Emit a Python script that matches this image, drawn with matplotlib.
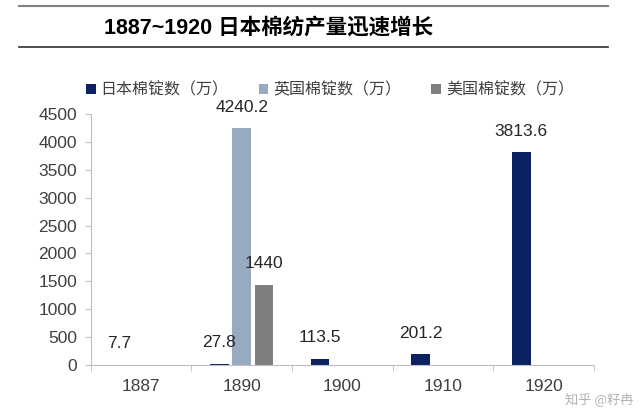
import numpy as np
import matplotlib
matplotlib.use("Agg")
import matplotlib.pyplot as plt

plt.rcParams['font.family'] = ['Liberation Sans', 'Noto Sans CJK SC', 'DejaVu Sans']

years = ["1887", "1890", "1900", "1910", "1920"]
japan = [7.7, 27.8, 113.5, 201.2, 3813.6]
britain = [None, 4240.2, None, None, None]
usa = [None, 1440, None, None, None]
series_names = ["日本棉锭数（万）", "英国棉锭数（万）", "美国棉锭数（万）"]
colors = ["#0B2161", "#98AABF", "#7F7F7F"]

fig = plt.figure(figsize=(6.4, 4.08), dpi=100)
ax = fig.add_axes([0.142, 0.105, 0.786, 0.616])

x = np.arange(len(years))
w = 0.185
step = 0.222
for i, (vals, name, c) in enumerate(zip([japan, britain, usa], series_names, colors)):
    xs = [x[j] + (i - 1) * step for j in range(len(vals)) if vals[j] is not None]
    vs = [v for v in vals if v is not None]
    ax.bar(xs, vs, width=w, color=c, label=name)
    for xv, v in zip(xs, vs):
        ax.annotate(f"{v:g}", (xv, v), xytext=(0, 15), textcoords="offset points",
                    ha="center", va="center", fontsize=12.5, color="#262626")

ax.set_xlim(-0.5, len(years) - 0.5)
ax.set_ylim(0, 4500)
ax.set_yticks(np.arange(0, 4501, 500))
ax.set_xticks(x)
ax.set_xticklabels(years)
ax.set_xticks(np.arange(-0.5, len(years)), minor=True)
ax.tick_params(axis="x", which="major", length=0, pad=10, labelsize=12.5, colors="#404040")
ax.tick_params(axis="x", which="minor", length=4, color="#BFBFBF")
ax.tick_params(axis="y", length=4, color="#BFBFBF", labelsize=12.5, labelcolor="#404040", pad=6)
for s in ["top", "right"]:
    ax.spines[s].set_visible(False)
for s in ["left", "bottom"]:
    ax.spines[s].set_color("#BFBFBF")

leg = fig.legend(loc="center left", bbox_to_anchor=(0.112, 1 - 90 / 408), ncol=3, frameon=False,
                 handlelength=0.6, handleheight=0.6, handletextpad=0.3, columnspacing=1.9,
                 prop={"family": ["Noto Sans CJK SC"], "size": 11.5})
for t in leg.get_texts():
    t.set_color("#404040")

# header with rules
fig.add_artist(plt.Line2D([0.03, 0.95], [1 - 6 / 408] * 2, color="#808080", lw=1.5))
fig.add_artist(plt.Line2D([0.03, 0.95], [1 - 47 / 408] * 2, color="#303030", lw=1.2))
fig.text(0.163, 1 - 28 / 408, "1887~1920 日本棉纺产量迅速增长", fontsize=15.5, fontweight="bold",
         va="center", ha="left", family=["Liberation Sans", "Noto Sans CJK SC"])

# watermark
fig.text(0.99, 1 - 399 / 408, "知乎 @籽冉", fontsize=9.5, color="#A0A0A0", alpha=0.8,
         va="center", ha="right", family=["Noto Sans CJK SC", "DejaVu Sans"])

fig.savefig("out.png", dpi=100)
